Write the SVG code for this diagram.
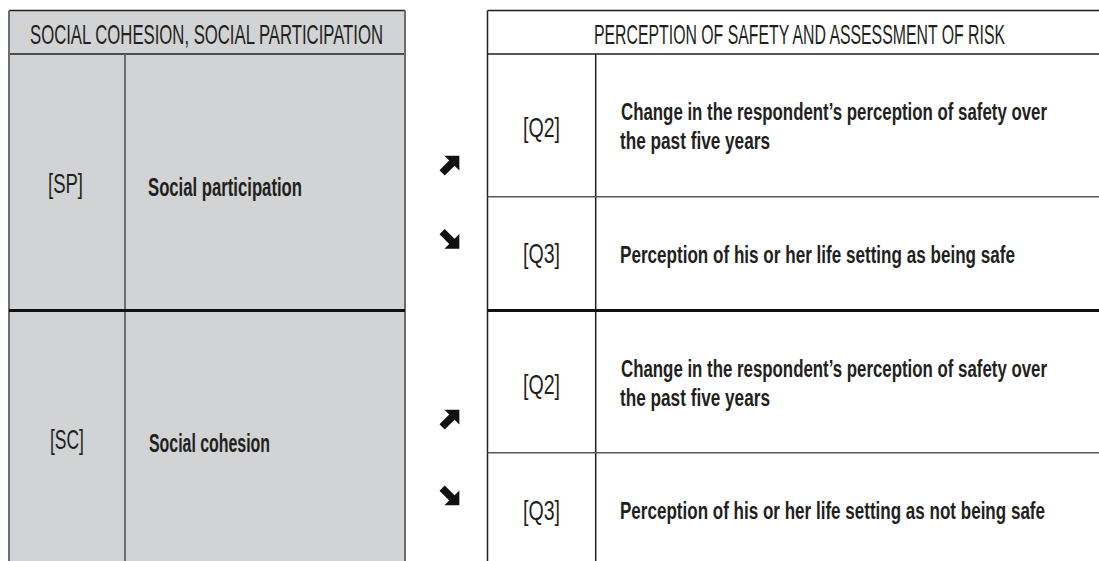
<svg xmlns="http://www.w3.org/2000/svg" width="1099" height="561" viewBox="0 0 1099 561">
<style>
  .hd { font-family: "Liberation Sans", Arial, sans-serif; font-size: 27.5px; fill: #231f20; }
  .code { font-family: "Liberation Sans", Arial, sans-serif; font-size: 27.5px; fill: #231f20; }
  .txt { font-family: "Liberation Sans", Arial, sans-serif; font-size: 24px; font-weight: bold; fill: #231f20; }
  .txtl { font-family: "Liberation Sans", Arial, sans-serif; font-size: 26px; font-weight: bold; fill: #231f20; }
  .gl { stroke: #6d6e71; stroke-width: 2; fill: none; }
  .dl { stroke: #231f20; stroke-width: 1.5; fill: none; }
  .rl { stroke: #58595b; stroke-width: 1.5; fill: none; }
  .tk { stroke: #111; stroke-width: 3; fill: none; }
  .arr { fill: #111; }
</style>
<defs>
  <polygon id="arrowUR" points="9,-9 9,4 4.8,-0.2 -3.7,8.3 -8.3,3.7 0.2,-4.8 -4,-9"/>
</defs>
<rect width="1099" height="561" fill="#ffffff"/>

<g id="left-table">
  <rect x="9" y="10.5" width="396" height="560" fill="#d1d3d4"/>
  <g id="left-header">
    <line class="dl" x1="9" y1="10.5" x2="405" y2="10.5"/>
    <line class="dl" x1="9" y1="54" x2="405" y2="54"/>
    <text class="hd" transform="translate(30,44) scale(0.65,1)" textLength="543.1" lengthAdjust="spacingAndGlyphs">SOCIAL COHESION, SOCIAL PARTICIPATION</text>
  </g>
  <line class="gl" x1="9" y1="10.5" x2="9" y2="561"/>
  <line class="gl" x1="405" y1="10.5" x2="405" y2="561"/>
  <line class="gl" x1="125" y1="54" x2="125" y2="561"/>
  <line class="tk" x1="9" y1="310.5" x2="405" y2="310.5"/>
  <g id="node-sp">
    <text class="code" transform="translate(48,193) scale(0.72,1)" textLength="48.6" lengthAdjust="spacingAndGlyphs">[SP]</text>
    <text class="txtl" transform="translate(148,196) scale(0.72,1)" textLength="213.9" lengthAdjust="spacingAndGlyphs">Social participation</text>
  </g>
  <g id="node-sc">
    <text class="code" transform="translate(50,448.5) scale(0.72,1)" textLength="47.2" lengthAdjust="spacingAndGlyphs">[SC]</text>
    <text class="txtl" transform="translate(149,452) scale(0.72,1)" textLength="168.1" lengthAdjust="spacingAndGlyphs">Social cohesion</text>
  </g>
</g>

<g id="right-table">
  <g id="right-header">
    <line class="dl" x1="487.5" y1="10.5" x2="1099" y2="10.5"/>
    <line class="dl" x1="487.5" y1="54" x2="1099" y2="54"/>
    <text class="hd" transform="translate(594,44) scale(0.65,1)" textLength="632.3" lengthAdjust="spacingAndGlyphs">PERCEPTION OF SAFETY AND ASSESSMENT OF RISK</text>
  </g>
  <line class="dl" x1="487.5" y1="10.5" x2="487.5" y2="561"/>
  <line class="dl" x1="595.7" y1="54" x2="595.7" y2="561"/>
  <line class="rl" x1="487.5" y1="196.7" x2="1099" y2="196.7"/>
  <line class="tk" x1="487.5" y1="310.5" x2="1099" y2="310.5"/>
  <line class="rl" x1="487.5" y1="452.7" x2="1099" y2="452.7"/>
  <g id="node-q2-a">
    <text class="code" transform="translate(523,136.5) scale(0.72,1)" textLength="51.4" lengthAdjust="spacingAndGlyphs">[Q2]</text>
    <text class="txt" transform="translate(621,120) scale(0.72,1)" textLength="591.7" lengthAdjust="spacingAndGlyphs">Change in the respondent’s perception of safety over</text>
    <text class="txt" transform="translate(620,149) scale(0.72,1)" textLength="208.3" lengthAdjust="spacingAndGlyphs">the past five years</text>
  </g>
  <g id="node-q3-a">
    <text class="code" transform="translate(523,263) scale(0.72,1)" textLength="51.4" lengthAdjust="spacingAndGlyphs">[Q3]</text>
    <text class="txt" transform="translate(620,263) scale(0.72,1)" textLength="548.6" lengthAdjust="spacingAndGlyphs">Perception of his or her life setting as being safe</text>
  </g>
  <g id="node-q2-b">
    <text class="code" transform="translate(523,393.5) scale(0.72,1)" textLength="51.4" lengthAdjust="spacingAndGlyphs">[Q2]</text>
    <text class="txt" transform="translate(621,377) scale(0.72,1)" textLength="591.7" lengthAdjust="spacingAndGlyphs">Change in the respondent’s perception of safety over</text>
    <text class="txt" transform="translate(620,406) scale(0.72,1)" textLength="208.3" lengthAdjust="spacingAndGlyphs">the past five years</text>
  </g>
  <g id="node-q3-b">
    <text class="code" transform="translate(523,519.5) scale(0.72,1)" textLength="51.4" lengthAdjust="spacingAndGlyphs">[Q3]</text>
    <text class="txt" transform="translate(620,519) scale(0.72,1)" textLength="590.3" lengthAdjust="spacingAndGlyphs">Perception of his or her life setting as not being safe</text>
  </g>
</g>

<g id="connectors">
  <use href="#arrowUR" class="arr" transform="translate(449,166) scale(1.15)"/>
  <use href="#arrowUR" class="arr" transform="translate(449,238.5) scale(1.15,-1.15)"/>
  <use href="#arrowUR" class="arr" transform="translate(449,420) scale(1.15)"/>
  <use href="#arrowUR" class="arr" transform="translate(449,495) scale(1.15,-1.15)"/>
</g>
</svg>
